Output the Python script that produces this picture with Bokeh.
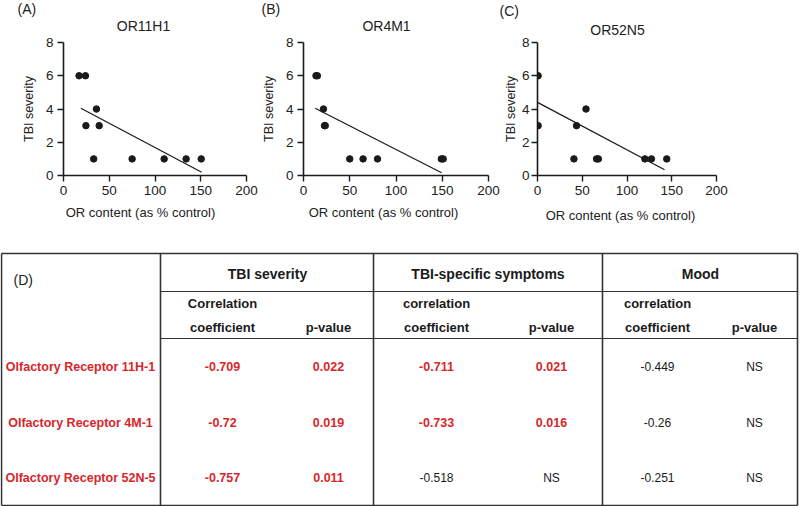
import numpy as np
from bokeh.plotting import figure
from bokeh.models import Range1d, Label, ColumnDataSource, FixedTicker
from bokeh.layouts import column, row
from bokeh.embed import file_html
from bokeh.resources import INLINE
from bokeh.core.properties import value

# ---------------- data ----------------
titles = ["OR11H1", "OR4M1", "OR52N5"]
panels = ["(A)", "(B)", "(C)"]
x_label = "OR content (as % control)"
y_label = "TBI severity"

or11h1_x = [17, 24, 24.5, 33, 36, 39, 75, 110, 134, 150.5]
or11h1_y = [6, 6, 3, 1, 4, 3, 1, 1, 1, 1]
or4m1_x = [13.5, 15, 21.6, 22.7, 23.5, 50, 64.4, 80, 149, 151]
or4m1_y = [6, 6, 4, 3, 3, 1, 1, 1, 1, 1]
or52n5_x = [0.7, 0.7, 40.7, 43.6, 54.2, 66, 68, 120, 127.3, 144.4]
or52n5_y = [6, 3, 1, 3, 4, 1, 1, 1, 1, 1]

fit11_x, fit11_y = [19, 151], [4.04, 0.2]
fit4_x, fit4_y = [12.6, 149.3], [4.04, 0.16]
fit52_x, fit52_y = [0, 142], [4.4, 0.35]

x_ticks = [0, 50, 100, 150, 200]
y_ticks = [0, 2, 4, 6, 8]

groups = ["TBI severity", "TBI-specific symptoms", "Mood"]
sub_top = ["Correlation", "correlation", "correlation"]
sub_r = ["coefficient", "coefficient", "coefficient"]
sub_p = ["p-value", "p-value", "p-value"]
receptors = ["Olfactory Receptor 11H-1", "Olfactory Receptor 4M-1", "Olfactory Receptor 52N-5"]
tbi_r = ["-0.709", "-0.72", "-0.757"]
tbi_p = ["0.022", "0.019", "0.011"]
sym_r = ["-0.711", "-0.733", "-0.518"]
sym_p = ["0.021", "0.016", "NS"]
mood_r = ["-0.449", "-0.26", "-0.251"]
mood_p = ["NS", "NS", "NS"]

# ---------------- style ----------------
FONT = "Liberation Sans"
INK = "#1a1a1a"
TXT = "#222222"
RED = "#d7262b"
ROW_H = 250


def scatter_panel(xs, ys, fx, fy, title, panel, left, right, top, fw,
                  rel_title, rel_xlab, rel_panel, lbl_std, ax_std,
                  title_y, panel_y, xlab_y):
    fh = 133
    p = figure(frame_width=fw, frame_height=fh,
               x_range=Range1d(0, 200), y_range=Range1d(0, 8),
               output_backend="svg", toolbar_location=None,
               min_border_left=left, min_border_right=right,
               min_border_top=top, min_border_bottom=ROW_H - top - fh)
    p.outline_line_color = None
    p.grid.visible = False
    p.xaxis.ticker = FixedTicker(ticks=x_ticks)
    p.yaxis.ticker = FixedTicker(ticks=y_ticks)
    for ax in (p.xaxis, p.yaxis):
        ax.minor_tick_line_color = None
        ax.major_tick_in = 0
        ax.major_tick_out = 6
        ax.axis_line_width = 1.6
        ax.major_tick_line_width = 1.4
        ax.axis_line_color = INK
        ax.major_tick_line_color = INK
        ax.major_label_text_font = FONT
        ax.major_label_text_font_size = "13.5px"
        ax.major_label_text_color = TXT
    p.xaxis.major_label_standoff = 4
    p.yaxis.major_label_standoff = lbl_std
    p.yaxis.axis_label = y_label
    p.yaxis.axis_label_text_font = FONT
    p.yaxis.axis_label_text_font_size = "12.5px"
    p.yaxis.axis_label_text_font_style = "normal"
    p.yaxis.axis_label_text_color = TXT
    p.yaxis.axis_label_standoff = ax_std

    p.line(fx, fy, line_width=1.2, line_color=INK)
    p.scatter(xs, ys, size=6.5, fill_color=INK, line_color=INK)

    # labels placed in the side panels so that they are not clipped by the frame
    p.add_layout(Label(x=rel_title, y=title_y, x_units="screen", y_units="screen",
                       text=title, text_align="center", text_baseline="middle",
                       text_font=FONT, text_font_size="14px", text_color=TXT), "above")
    p.add_layout(Label(x=rel_panel, y=panel_y, x_units="screen", y_units="screen",
                       text=panel, text_align="left", text_baseline="middle",
                       text_font=FONT, text_font_size="14px", text_color=TXT), "above")
    p.add_layout(Label(x=rel_xlab, y=xlab_y, x_units="screen", y_units="screen",
                       text=x_label, text_align="center", text_baseline="middle",
                       text_font=FONT, text_font_size="13px", text_color=TXT), "below")
    return p


pA = scatter_panel(or11h1_x, or11h1_y, fit11_x, fit11_y, titles[0], panels[0],
                   63, 12, 42, 183, 80, 77, -46, 4, 7, 17, 18, 0.5)
pB = scatter_panel(or4m1_x, or4m1_y, fit4_x, fit4_y, titles[1], panels[1],
                   42, 12, 42, 185, 83, 80, -42, 4, 7, 17, 18, 0.5)
pC = scatter_panel(or52n5_x, or52n5_y, fit52_x, fit52_y, titles[2], panels[2],
                   20, 40, 39, 179, 80, 83, -38, 2, 1, 13, 16, -2.5)

# ---------------- table ----------------
TW, TH = 800, 256
t = figure(width=TW, height=TH, x_range=Range1d(0, TW), y_range=Range1d(TH, 0),
           output_backend="svg", toolbar_location=None,
           x_axis_location=None, y_axis_location=None, min_border=0)
t.outline_line_color = None
t.grid.visible = False

L, R, T, B = 1, 797, 3, 255
col_lines = [160, 373, 602]
h_lines = [41, 88]

bx0 = [L, L, L, R] + col_lines
by0 = [T, B, T, T] + [T] * 3
bx1 = [R, R, L, R] + col_lines
by1 = [T, B, B, B] + [B] * 3
t.segment(bx0, by0, bx1, by1, line_color="#333333", line_width=1.6)
t.segment([col_lines[0]] * 2, h_lines, [R] * 2, h_lines, line_color="#333333", line_width=1.1)

group_cx = [267, 487.5, 700]
r_cx = [222, 436, 657]
p_cx = [328, 551, 754]
row_y = [116, 172, 227]


def txt(xs, ys, texts, size, style, color, align="center"):
    src = ColumnDataSource(dict(x=xs, y=ys, text=texts))
    t.text("x", "y", text="text", source=src, text_align=align, text_baseline="middle",
           text_font=value(FONT), text_font_size=size, text_font_style=style,
           text_color=color)


txt([13], [29], ["(D)"], "14px", "normal", TXT, align="left")
txt(group_cx, [23] * 3, groups, "14px", "bold", INK)
txt(r_cx, [53] * 3, sub_top, "13px", "bold", INK)
txt(r_cx, [77] * 3, sub_r, "13px", "bold", INK)
txt(p_cx, [77] * 3, sub_p, "13px", "bold", INK)
txt([80] * 3, row_y, receptors, "12.5px", "bold", RED)

cells_x, cells_y, cells_t, sig = [], [], [], []
for r_vals, p_vals, rc, pc in [(tbi_r, tbi_p, r_cx[0], p_cx[0]),
                               (sym_r, sym_p, r_cx[1], p_cx[1]),
                               (mood_r, mood_p, r_cx[2], p_cx[2])]:
    for i in range(3):
        s = p_vals[i] != "NS"
        cells_x += [rc, pc]
        cells_y += [row_y[i], row_y[i]]
        cells_t += [r_vals[i], p_vals[i]]
        sig += [s, s]

sx = [x for x, s in zip(cells_x, sig) if s]
sy = [y for y, s in zip(cells_y, sig) if s]
st = [v for v, s in zip(cells_t, sig) if s]
nx = [x for x, s in zip(cells_x, sig) if not s]
ny = [y for y, s in zip(cells_y, sig) if not s]
nt = [v for v, s in zip(cells_t, sig) if not s]
txt(sx, sy, st, "12.5px", "bold", RED)
txt(nx, ny, nt, "12px", "normal", INK)

layout = column(row(pA, pB, pC), t)
open("out.html", "w").write(file_html(layout, INLINE))
